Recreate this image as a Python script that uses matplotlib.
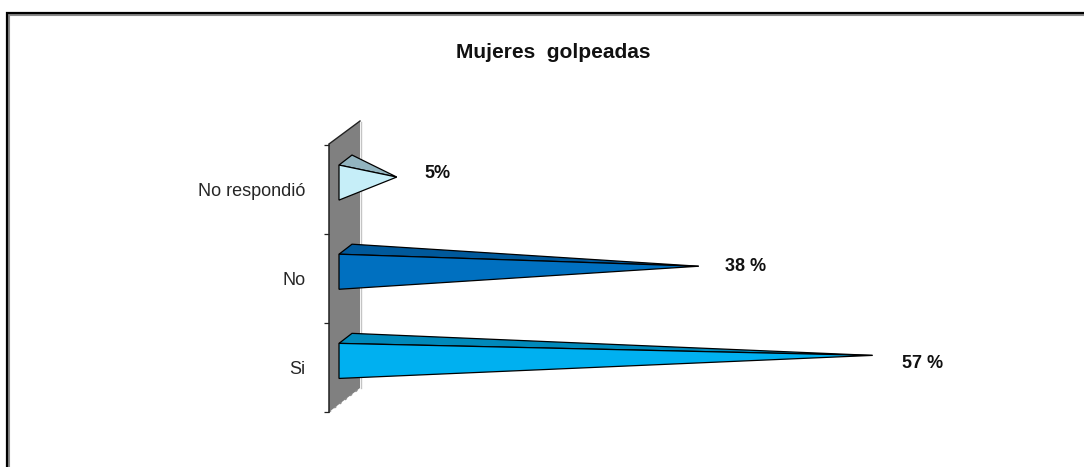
import matplotlib
matplotlib.use("Agg")
import matplotlib.pyplot as plt
from matplotlib.patches import Polygon

plt.rcParams['font.family'] = ['Liberation Sans', 'DejaVu Sans']

categories = ["Si", "No", "No respondió"]
values = [57, 38, 5]
value_labels = ["57 %", "38 %", "5%"]
title = "Mujeres  golpeadas"

W, H = 1084, 467
front_colors = ["#00B0F0", "#0070C0", "#C6EEF8"]
top_colors = ["#0089BA", "#00599B", "#92B4BF"]
label_offsets = [(50, -8), (47, 0), (41, 4)]   # px from bar tip (right, down)

fig = plt.figure(figsize=(W / 100, H / 100), dpi=100, facecolor="white")

# frame of the picture
bg = fig.add_axes([0, 0, 1, 1], zorder=0)
bg.set_xlim(0, W); bg.set_ylim(H, 0); bg.axis("off")
bg.plot([9, 9, W], [H, 14.8, 14.8], color="#8a8a8a", lw=1.5, solid_joinstyle="miter")
bg.plot([7, 7, W], [H, 13, 13], color="black", lw=1.6, solid_joinstyle="miter")

# wall with its depth, in pixels
bg.add_patch(Polygon([(329, 144), (360, 121), (360, 388), (329, 412)], closed=True,
                     facecolor="#808080", edgecolor="none"))
bg.plot([360.8, 360.8], [122, 388], color="#c4c4c4", lw=1)
bg.plot([329, 360], [144, 121], color="#222222", lw=1)
bg.plot([329, 360], [412, 388], color="#8c8c8c", lw=1.2, ls=(0, (1.5, 2.5)))

# axes: left edge = x pixel 329, y spans 144..412
x0, x1 = 329, 1075
y_top, y_bot = 144.5, 412
ax = fig.add_axes([x0 / W, 1 - y_bot / H, (x1 - x0) / W, (y_bot - y_top) / H], zorder=1)
ax.patch.set_alpha(0)
PX0, PXU = 351, 9.15           # pixel of value 0 and pixels per unit
ax.set_xlim((x0 - PX0) / PXU, (x1 - PX0) / PXU)
ax.set_ylim(-0.5, len(categories) - 0.5)
for s in ("top", "right", "bottom"):
    ax.spines[s].set_visible(False)
ax.spines["left"].set_linewidth(1.1)
ax.spines["left"].set_color("#222222")
ax.set_xticks([])
ax.set_yticks(range(len(categories)), categories, fontsize=13, color="#262626")
ax.tick_params(axis="y", which="major", length=0, pad=17)
ax.set_yticks([-0.5, 0.5, 1.5, 2.5], minor=True)
ax.tick_params(axis="y", which="minor", length=3.6, width=0.9, color="#222222")

uy = 89.0                      # pixels per category
for i, (v, lab) in enumerate(zip(values, value_labels)):
    base = (339 - PX0) / PXU
    back = (352 - PX0) / PXU
    tip = i + 12 / uy
    top = i + 24 / uy
    front_low = i - 11 / uy
    ax.add_patch(Polygon([(base, top), (back, i + 34 / uy), (v, tip)], closed=True,
                         facecolor=top_colors[i], edgecolor="black", lw=0.9,
                         joinstyle="miter", clip_on=False))
    ax.add_patch(Polygon([(base, top), (v, tip), (base, front_low)], closed=True,
                         facecolor=front_colors[i], edgecolor="black", lw=0.9,
                         joinstyle="miter", clip_on=False))
    dx, dy = label_offsets[i]
    ax.annotate(lab, xy=(v, tip), xytext=(dx * 0.72, dy * 0.72), textcoords="offset points",
                fontsize=13, fontweight="bold", color="#111111",
                ha="center", va="center")

fig.text(553.5 / W, 1 - 53 / H, title, fontsize=15, fontweight="bold",
         color="#111111", ha="center", va="center")

fig.savefig("out.png", dpi=100)
